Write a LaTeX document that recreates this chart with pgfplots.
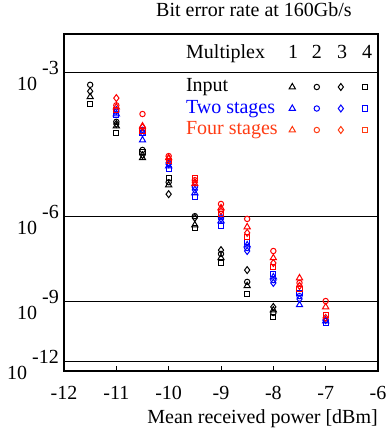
\documentclass[border=0pt]{standalone}
\usepackage{fontspec}
\setmainfont{Liberation Serif}
\usepackage{pgfplots}
\pgfplotsset{compat=1.18}
\definecolor{fourtxt}{RGB}{255,60,20}
\pgfplotsset{
  mk/.style={only marks, mark options={solid, line width=1pt}},
  legmk/.style={legend image code/.code={\draw[##1] plot coordinates {(0pt,0pt)};}},
  tri/.style={mk, mark=triangle, mark size=3.6pt},
  cir/.style={mk, mark=o, mark size=2.7pt},
  dia/.style={mk, mark=diamond, mark size=3.5pt},
  squ/.style={mk, mark=square, mark size=2.6pt},
}
\begin{document}
\fontsize{20}{24}\selectfont
\begin{tikzpicture}
\useasboundingbox (-64pt,-62pt) rectangle (326pt,371pt);
\begin{axis}[
  at={(0pt,0pt)}, anchor=south west,
  scale only axis, width=314pt, height=337pt,
  clip=false,
  xmin=-12, xmax=-6,
  ymin=0.39794, ymax=1.10000, y dir=reverse,
  y filter/.expression={log10(y)},
  tick pos=left,
  xtick={-12,-11,-10,-9,-8,-7,-6},
  xticklabels={-12,-11,-10,-9,-8,-7,-6},
  xticklabel style={anchor=base, yshift=-28pt, inner sep=0pt},
  ytick={0.47712,0.77815,0.95424,1.07918},
  yticklabels={{10\hspace{5pt}\raisebox{16pt}{-3}},{10\hspace{5pt}\raisebox{16pt}{-6}},{10\hspace{5pt}\raisebox{16pt}{-9}},{10\hspace{5pt}\raisebox{16pt}{-12}}},
  yticklabel style={anchor=base east, inner sep=0pt, xshift=-5pt, yshift=-18pt},
  major tick length=5pt,
  xtick style={black, line width=1pt},
  ytick style={draw=none},
  ymajorgrids,
  grid style={black, line width=1pt, solid},
  axis line style={line width=1.2pt},
  xlabel={Mean received power [dBm]},
  xlabel style={at={(axis description cs:1,-0.157)}, anchor=base east, inner sep=0pt},
  title={Bit error rate at 160Gb/s},
  title style={at={(axis description cs:0.605,1.0356)}, anchor=base, inner sep=0pt},
  legend columns=5,
  legend cell align=left,
  legend style={draw=none, fill=none, inner sep=0pt, outer sep=0pt,
    at={(axis description cs:0.3688,0.8709)}, anchor=north west,
    row sep=2.5pt,
    nodes={inner sep=0pt, text height=14pt, text depth=5pt},
    /tikz/every odd column/.append style={column sep=6.2pt},
    /tikz/every even column/.append style={column sep=11.5pt}},
]
% Input (black)
\addplot[black, tri, forget plot] table {
x y
-11.5 3.38
-11 3.89
-10.5 4.53
-10 5.16
-9.5 6.25
-9 7.32
-8.5 8.37
-8 9.40
};
\addplot[black, cir, forget plot] table {
x y
-11.5 3.19
-11 3.81
-10.5 4.36
-10 5.09
-9.5 5.99
-9 7.18
-8.5 8.21
-8 9.53
};
\addplot[black, dia, forget plot] table {
x y
-11.5 3.29
-11 3.85
-10.5 4.47
-10 5.39
-9.5 6.04
-9 7.05
-8.5 7.76
-8 9.26
};
\addplot[black, squ, forget plot] table {
x y
-11.5 3.50
-11 4.02
-10.5 4.40
-10 4.99
-9.5 6.34
-9 7.50
-8.5 8.70
-8 9.72
};
% Two stages (blue)
\addplot[blue, tri, forget plot] table {
x y
-11 3.67
-10.5 4.16
-10 4.71
-9.5 5.36
-9 6.13
-8.5 6.88
-8 8.02
-7.5 9.17
-7 9.91
};
\addplot[blue, cir, forget plot] table {
x y
-11 3.63
-10.5 3.96
-10 4.64
-9.5 5.21
-9 6.02
-8.5 6.98
-8 8.14
-7.5 8.79
-7 9.86
};
\addplot[blue, dia, forget plot] table {
x y
-11 3.60
-10.5 4.02
-10 4.67
-9.5 5.28
-9 6.07
-8.5 7.08
-8 8.25
-7.5 8.91
-7 9.86
};
\addplot[blue, squ, forget plot] table {
x y
-11 3.69
-10.5 4.02
-10 4.78
-9.5 5.46
-9 6.28
-8.5 6.78
-8 7.91
-7.5 8.66
-7 10.0
};
% Four stages (red)
\addplot[red, tri, forget plot] table {
x y
-11 3.55
-10.5 3.89
-10 4.53
-9.5 5.13
-9 5.76
-8.5 6.31
-8 7.32
-7.5 8.06
-7 9.26
};
\addplot[red, cir, forget plot] table {
x y
-11 3.52
-10.5 3.67
-10 4.49
-9.5 5.04
-9 5.65
-8.5 6.07
-8 7.08
-7.5 8.25
-7 9.00
};
\addplot[red, dia, forget plot] table {
x y
-11 3.40
-10.5 3.91
-10 4.55
-9.5 5.09
-9 5.84
-8.5 6.49
-8 7.50
-7.5 8.37
-7 9.76
};
\addplot[red, squ, forget plot] table {
x y
-11 3.60
-10.5 3.98
-10 4.60
-9.5 4.99
-9 5.93
-8.5 6.62
-8 7.64
-7.5 8.50
-7 9.62
};
% legend
\addlegendimage{empty legend}\addlegendentry{Input}
\addlegendimage{black, tri, legmk}\addlegendentry{}
\addlegendimage{black, cir, legmk}\addlegendentry{}
\addlegendimage{black, dia, legmk}\addlegendentry{}
\addlegendimage{black, squ, legmk}\addlegendentry{}
\addlegendimage{empty legend}\addlegendentry{\textcolor{blue}{Two stages}}
\addlegendimage{blue, tri, legmk}\addlegendentry{}
\addlegendimage{blue, cir, legmk}\addlegendentry{}
\addlegendimage{blue, dia, legmk}\addlegendentry{}
\addlegendimage{blue, squ, legmk}\addlegendentry{}
\addlegendimage{empty legend}\addlegendentry{\textcolor{fourtxt}{Four stages}}
\addlegendimage{fourtxt, tri, legmk}\addlegendentry{}
\addlegendimage{fourtxt, cir, legmk}\addlegendentry{}
\addlegendimage{fourtxt, dia, legmk}\addlegendentry{}
\addlegendimage{fourtxt, squ, legmk}\addlegendentry{}
% header
\node[anchor=base west, inner sep=0pt] at (axis description cs:0.3885,0.927) {Multiplex};
\node[anchor=base, inner sep=0pt] at (axis description cs:0.7293,0.927) {1};
\node[anchor=base, inner sep=0pt] at (axis description cs:0.8057,0.927) {2};
\node[anchor=base, inner sep=0pt] at (axis description cs:0.8854,0.927) {3};
\node[anchor=base, inner sep=0pt] at (axis description cs:0.9650,0.927) {4};
\end{axis}
\end{tikzpicture}
\end{document}
